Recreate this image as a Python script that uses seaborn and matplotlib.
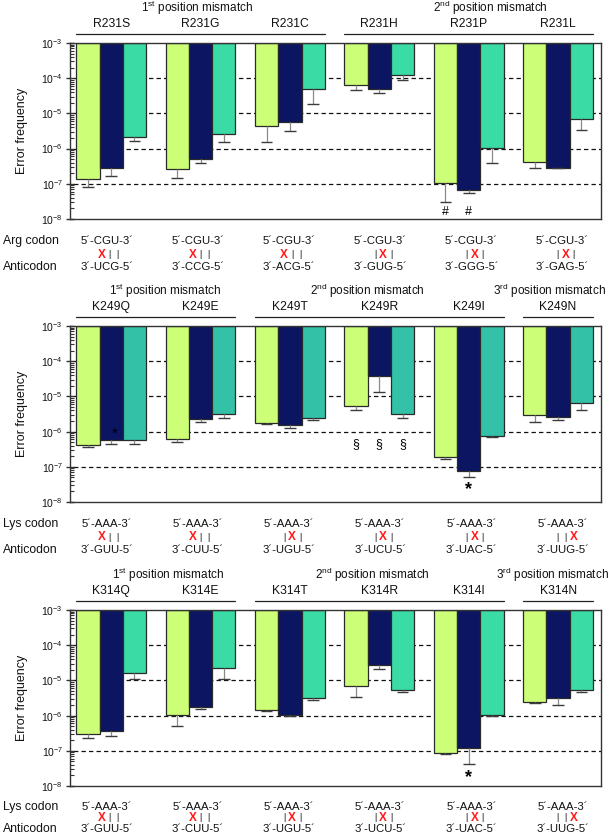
import numpy as np
import pandas as pd
import matplotlib
matplotlib.use('Agg')
import matplotlib.pyplot as plt
import matplotlib.transforms as mtransforms
from matplotlib.lines import Line2D
import seaborn as sns

# ------------------------------------------------------------
# Datos (frecuencia de error)
# ------------------------------------------------------------
SERIES = ['s1', 's2', 's3']
TOP_VALUE = 1e-3

R231_LABELS = ['R231S', 'R231G', 'R231C', 'R231H', 'R231P', 'R231L']
R231_LIME = [1.35e-7, 2.6e-7, 4.3e-6, 6.6e-5, 1.07e-7, 4.3e-7]
R231_NAVY = [2.9e-7, 5.0e-7, 5.6e-6, 5.0e-5, 6.8e-8, 2.9e-7]
R231_TEAL = [2.2e-6, 2.6e-6, 4.8e-5, 1.27e-4, 1.05e-6, 7.1e-6]
R231_LIME_LOW = [8.0e-8, 1.5e-7, 1.5e-6, 4.7e-5, 3.0e-8, 2.9e-7]
R231_NAVY_LOW = [1.7e-7, 3.9e-7, 3.2e-6, 3.8e-5, 5.5e-8, 2.8e-7]
R231_TEAL_LOW = [1.6e-6, 1.5e-6, 1.9e-5, 8.8e-5, 3.8e-7, 3.4e-6]

K249_LABELS = ['K249Q', 'K249E', 'K249T', 'K249R', 'K249I', 'K249N']
K249_LIME = [4.2e-7, 6.0e-7, 1.8e-6, 5.2e-6, 1.85e-7, 2.9e-6]
K249_NAVY = [5.7e-7, 2.35e-6, 1.5e-6, 3.9e-5, 7.4e-8, 2.6e-6]
K249_TEAL = [5.7e-7, 3.2e-6, 2.5e-6, 3.1e-6, 7.3e-7, 6.7e-6]
K249_LIME_LOW = [3.6e-7, 5.2e-7, 1.65e-6, 4.2e-6, 1.7e-7, 1.87e-6]
K249_NAVY_LOW = [4.5e-7, 1.9e-6, 1.3e-6, 1.3e-5, 5.0e-8, 2.15e-6]
K249_TEAL_LOW = [4.5e-7, 2.5e-6, 2.2e-6, 2.5e-6, 7.2e-7, 4.2e-6]

K314_LABELS = ['K314Q', 'K314E', 'K314T', 'K314R', 'K314I', 'K314N']
K314_LIME = [3.0e-7, 1.03e-6, 1.4e-6, 6.9e-6, 8.7e-8, 2.5e-6]
K314_NAVY = [3.6e-7, 1.73e-6, 1.07e-6, 2.8e-5, 1.24e-7, 3.1e-6]
K314_TEAL = [1.6e-5, 2.3e-5, 3.2e-6, 5.3e-6, 1.03e-6, 5.3e-6]
K314_LIME_LOW = [2.3e-7, 5.2e-7, 1.37e-6, 3.3e-6, 8.0e-8, 2.3e-6]
K314_NAVY_LOW = [2.6e-7, 1.55e-6, 1.0e-6, 2.1e-5, 4.2e-8, 1.96e-6]
K314_TEAL_LOW = [1.1e-5, 1.07e-5, 2.8e-6, 4.8e-6, 1.0e-6, 4.8e-6]

# Codones / anticodones y posición del mismatch (0, 1, 2)
ARG_CODON = 'CGU'
R231_ANTICODONS = ['UCG', 'CCG', 'ACG', 'GUG', 'GGG', 'GAG']
R231_MISMATCH = [0, 0, 0, 1, 1, 1]
LYS_CODON = 'AAA'
LYS_ANTICODONS = ['GUU', 'CUU', 'UGU', 'UCU', 'UAC', 'UUG']
LYS_MISMATCH = [0, 0, 1, 1, 1, 2]

# Encabezados: (texto, primer grupo, último grupo, x del texto)
R231_HEADERS = [('1$^{st}$ position mismatch', 0, 2, 0.96),
                ('2$^{nd}$ position mismatch', 3, 5, 4.24)]
K249_HEADERS = [('1$^{st}$ position mismatch', 0, 1, 0.60),
                ('2$^{nd}$ position mismatch', 2, 4, 2.87),
                ('3$^{rd}$ position mismatch', 5, 5, 4.90)]
K314_HEADERS = [('1$^{st}$ position mismatch', 0, 1, 0.64),
                ('2$^{nd}$ position mismatch', 2, 4, 2.92),
                ('3$^{rd}$ position mismatch', 5, 5, 4.94)]

# Marcas de significancia: (grupo, serie, símbolo, valor y, dx, tamaño, peso)
R231_MARKS = [(4, 0, '#', 1.6e-8, 0.0, 9, 'normal'),
              (4, 1, '#', 1.6e-8, 0.0, 9, 'normal')]
K249_MARKS = [(0, 1, '*', 8.6e-7, 0.04, 11, 'normal'),
              (3, 0, '§', 4.4e-7, 0.0, 9, 'normal'),
              (3, 1, '§', 4.4e-7, 0.0, 9, 'normal'),
              (3, 2, '§', 4.4e-7, 0.0, 9, 'normal'),
              (4, 1, '*', 2.2e-8, 0.0, 13, 'bold')]
K314_MARKS = [(4, 1, '*', 1.7e-8, 0.0, 13, 'bold')]

# ------------------------------------------------------------
# Estilo
# ------------------------------------------------------------
sns.set_theme(style='white')
plt.rcParams['font.family'] = ['Liberation Sans', 'DejaVu Sans']
plt.rcParams['mathtext.default'] = 'regular'

LIME = '#ccff77'
NAVY = '#0b1561'
TEAL_A = '#3adba5'
TEAL_B = '#33c2a8'
TEXT = '#111111'

FIG_W, FIG_H = 614, 835
AX_LEFT, AX_RIGHT = 70, 601
PX_PER_GROUP = 89.4


def fy(px):
    return 1 - px / FIG_H


def to_y(v):
    return np.log10(np.asarray(v, dtype=float)) - np.log10(TOP_VALUE)


def draw_panel(fig, top_px, labels, values, lows, teal, headers, marks,
               codon_label, codon, anticodons, mismatch, text_rows):
    bottom_px = top_px + 176
    ax = fig.add_axes([AX_LEFT / FIG_W, fy(bottom_px),
                       (AX_RIGHT - AX_LEFT) / FIG_W, 176 / FIG_H])

    df = pd.DataFrame({
        'group': labels * 3,
        'series': [s for s in SERIES for _ in labels],
        'value': [v for serie in values for v in serie],
    })
    df['y'] = to_y(df['value'])

    sns.barplot(data=df, x='group', y='y', hue='series', order=labels,
                hue_order=SERIES, palette=[LIME, NAVY, teal], saturation=1,
                width=0.78, errorbar=None, legend=False, edgecolor='#2a2a2a',
                linewidth=0.9, ax=ax, zorder=2)

    # líneas de referencia punteadas
    ax.hlines([-1, -2, -3, -4], -0.5, 5.6, colors=TEXT,
              linestyles=(0, (3.5, 2.5)), linewidth=0.9, zorder=0.5)

    # barras de error (solo hacia abajo)
    for container, low in zip(ax.containers, lows):
        for patch, lo in zip(container.patches, low):
            xc = patch.get_x() + patch.get_width() / 2
            y_end = patch.get_y() + patch.get_height()
            y_lo = to_y(lo)
            ax.vlines(xc, y_lo, y_end, colors='#8a8a8a', linewidth=0.9, zorder=3)
            ax.hlines(y_lo, xc - 0.065, xc + 0.065, colors='#3c3c3c',
                      linewidth=1.0, zorder=3)

    for g, s, sym, yv, dx, size, weight in marks:
        patch = ax.containers[s].patches[g]
        xc = patch.get_x() + patch.get_width() / 2 + dx
        ax.text(xc, to_y(yv), sym, ha='center', va='center', fontsize=size,
                fontweight=weight, color='#000000', zorder=4)

    ax.set_xlim(-0.46, 5.48)
    ax.set_ylim(-5, 0)
    ax.set_xticks([])
    ax.set_xlabel('')
    ax.set_yticks(range(-5, 1))
    ax.set_yticklabels([f'10$^{{{e}}}$' for e in range(-8, -2)], fontsize=7.5)
    minor = [np.log10(k) + d for d in range(-5, 0) for k in range(2, 10)]
    ax.set_yticks(minor, minor=True)
    ax.tick_params(axis='y', which='major', direction='inout', length=6,
                   width=1, color='#333333', pad=2, left=True, labelcolor=TEXT)
    ax.tick_params(axis='y', which='minor', direction='in', length=3,
                   width=0.8, color='#333333', left=True)
    ax.set_ylabel('Error frequency', fontsize=9, color=TEXT)
    ax.yaxis.set_label_coords(-(AX_LEFT - 28) / (AX_RIGHT - AX_LEFT), 0.5)
    for spine in ax.spines.values():
        spine.set_visible(True)
        spine.set_color('#333333')
        spine.set_linewidth(1.0)

    trans = mtransforms.blended_transform_factory(ax.transData, fig.transFigure)

    # etiquetas de grupo, encabezados y corchetes
    for i, lab in enumerate(labels):
        ax.text(i, fy(top_px - 19), lab, transform=trans, ha='center',
                va='center', fontsize=8.7, color=TEXT)
    for text, g0, g1, xt in headers:
        ax.text(xt, fy(top_px - 35), text, transform=trans, ha='center',
                va='center', fontsize=8.5, color=TEXT)
        ax.add_line(Line2D([g0 - 0.39, g1 + 0.39],
                           [fy(top_px - 9.5)] * 2, transform=trans,
                           color='#222222', linewidth=0.9, clip_on=False))

    # codón / anticodón
    y_codon, y_mis, y_anti = text_rows
    fig.text(3 / FIG_W, fy(y_codon), codon_label, ha='left', va='center',
             fontsize=8.8, color=TEXT)
    fig.text(3 / FIG_W, fy(y_anti), 'Anticodon', ha='left', va='center',
             fontsize=8.8, color=TEXT)
    for i, (anti, pos) in enumerate(zip(anticodons, mismatch)):
        xc = 1.02 * i - 0.05
        ax.text(xc, fy(y_codon), f'5´-{codon}-3´', transform=trans,
                ha='center', va='center', fontsize=8.2, color=TEXT)
        ax.text(xc, fy(y_anti), f'3´-{anti}-5´', transform=trans,
                ha='center', va='center', fontsize=8.2, color=TEXT)
        for k in range(3):
            xk = xc + (3 + 8 * (k - 1)) / PX_PER_GROUP
            if k == pos:
                ax.text(xk, fy(y_mis), 'X', transform=trans, ha='center',
                        va='center', fontsize=8.5, fontweight='bold',
                        color='#ff1a1a')
            else:
                ax.text(xk, fy(y_mis), '|', transform=trans, ha='center',
                        va='center', fontsize=6.5, color=TEXT)
    return ax


def main():
    fig = plt.figure(figsize=(FIG_W / 100, FIG_H / 100), dpi=100)
    fig.patch.set_facecolor('white')

    draw_panel(fig, 43, R231_LABELS,
               [R231_LIME, R231_NAVY, R231_TEAL],
               [R231_LIME_LOW, R231_NAVY_LOW, R231_TEAL_LOW],
               TEAL_A, R231_HEADERS, R231_MARKS,
               'Arg codon', ARG_CODON, R231_ANTICODONS, R231_MISMATCH,
               (241, 254.5, 267.5))

    draw_panel(fig, 326, K249_LABELS,
               [K249_LIME, K249_NAVY, K249_TEAL],
               [K249_LIME_LOW, K249_NAVY_LOW, K249_TEAL_LOW],
               TEAL_B, K249_HEADERS, K249_MARKS,
               'Lys codon', LYS_CODON, LYS_ANTICODONS, LYS_MISMATCH,
               (524, 537, 550))

    draw_panel(fig, 610, K314_LABELS,
               [K314_LIME, K314_NAVY, K314_TEAL],
               [K314_LIME_LOW, K314_NAVY_LOW, K314_TEAL_LOW],
               TEAL_A, K314_HEADERS, K314_MARKS,
               'Lys codon', LYS_CODON, LYS_ANTICODONS, LYS_MISMATCH,
               (807, 818, 828.5))

    fig.savefig('out.png', dpi=100)
    plt.close(fig)


if __name__ == '__main__':
    main()
